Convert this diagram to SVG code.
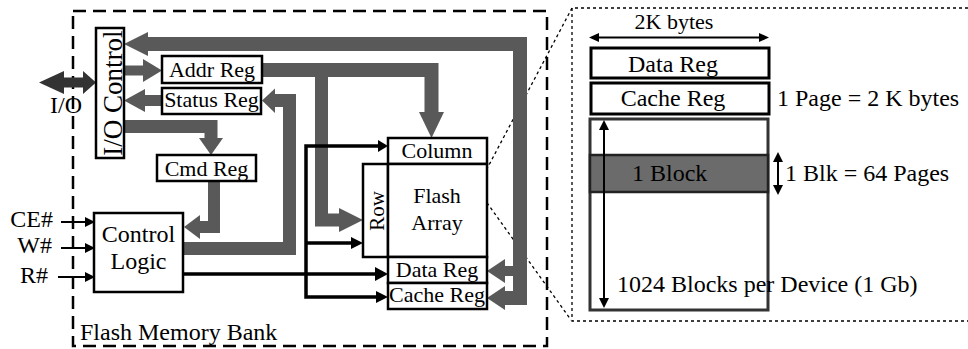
<svg xmlns="http://www.w3.org/2000/svg" width="968" height="349" viewBox="0 0 968 349">
<style>
text{font-family:"Liberation Serif","Times New Roman",serif;fill:#000}
.box{fill:#fff;stroke:#000;stroke-width:2.5}
.bus{fill:none;stroke:#595959;stroke-linejoin:miter;stroke-linecap:butt}
.head{fill:#595959;stroke:none}
.wire{fill:none;stroke:#000;stroke-width:3.5;stroke-linejoin:miter}
.thin{fill:none;stroke:#000;stroke-width:2}
.ah{fill:#000;stroke:none}
.t22{font-size:22px}
.t24{font-size:24px}
</style>
<rect x="0" y="0" width="968" height="349" fill="#fff"/>

<g id="bank-border">
<rect x="73" y="11" width="474" height="335" fill="none" stroke="#000" stroke-width="2.5" stroke-dasharray="13 7"/>
<text class="t24" x="80" y="340">Flash Memory Bank</text>
</g>

<g id="zoom-lines" fill="none" stroke="#000" stroke-width="1.3" stroke-dasharray="3 3">
<path d="M968,8 H572 V321 H968"/>
<line x1="572" y1="8" x2="480" y2="182"/>
<line x1="480" y1="193" x2="571" y2="320"/>
</g>

<g id="connectors">
<!-- big loop -->
<path class="bus" stroke-width="14" d="M148,44 H520 V298 H505"/>
<path class="bus" stroke-width="10" d="M520,271 H505"/>
<polygon class="head" points="148,32 124,44 148,56"/>
<polygon class="head" points="505,286 487,298 505,310"/>
<polygon class="head" points="505,259 487,271 505,283"/>
<!-- I/O -> Addr -->
<path class="bus" stroke-width="10" d="M124,70.5 H144"/>
<polygon class="head" points="143,59 162,70.5 143,82"/>
<!-- Status -> I/O -->
<path class="bus" stroke-width="11" d="M162,100.5 H145"/>
<polygon class="head" points="145,89 124,100.5 145,112"/>
<!-- I/O -> Cmd -->
<path class="bus" stroke-width="13" d="M124,126.5 H211 V139"/>
<polygon class="head" points="199,138 223,138 211,155"/>
<!-- Cmd -> Control -->
<path class="bus" stroke-width="12" d="M214,181 V227 H199"/>
<polygon class="head" points="200,215 184,227 200,239"/>
<!-- Control -> Status -->
<path class="bus" stroke-width="13" d="M183,248.5 H289.5 V100.5 H274"/>
<polygon class="head" points="275,88.5 262,100.5 275,113"/>
<!-- Addr -> Column / Row -->
<path class="bus" stroke-width="14" d="M262,70 H431.5 V113"/>
<polygon class="head" points="419,112 444,112 431.5,138"/>
<path class="bus" stroke-width="13" d="M321.5,70 V220 H340"/>
<polygon class="head" points="339,208 363,220 339,232"/>
<!-- I/O pins -->
<polygon fill="#333" points="39,82.5 64,71 64,77.5 83,77.5 83,71 96,82.5 83,94 83,87.5 64,87.5 64,94"/>
<!-- control wires -->
<path class="wire" d="M183,274 H376"/>
<polygon class="ah" points="375,267 388,274 375,281"/>
<path class="wire" d="M380,146 H306 V297 H377"/>
<polygon class="ah" points="378,140 388,146 378,152"/>
<polygon class="ah" points="376,291 388,297 376,303"/>
<path class="wire" d="M306,243 H353"/>
<polygon class="ah" points="351,237 363,243 351,249"/>
<!-- inputs -->
<path class="thin" d="M61,222 H87 M61,248 H87 M58,277 H87"/>
<polygon class="ah" points="85,217 95,222 85,227"/>
<polygon class="ah" points="85,243 95,248 85,253"/>
<polygon class="ah" points="85,272 95,277 85,282"/>
</g>

<g id="io-label"><text class="t24" x="66" y="113" text-anchor="middle">I/O</text></g>
<g id="pins">
<text class="t24" x="53" y="227" text-anchor="end">CE#</text>
<text class="t24" x="52" y="253" text-anchor="end">W#</text>
<text class="t24" x="48" y="283" text-anchor="end">R#</text>
</g>

<g id="io-control">
<rect class="box" x="96" y="28" width="28" height="130"/>
<text transform="translate(121.5,93) rotate(-90)" font-size="27" text-anchor="middle">I/O Control</text>
</g>
<g id="addr-reg">
<rect class="box" x="162" y="56" width="100" height="27"/>
<text class="t22" x="212" y="77" text-anchor="middle">Addr Reg</text>
</g>
<g id="status-reg">
<rect class="box" x="162" y="88" width="99" height="26"/>
<text class="t22" x="211.5" y="107" text-anchor="middle">Status Reg</text>
</g>
<g id="cmd-reg">
<rect class="box" x="157" y="155" width="99" height="26"/>
<text class="t22" x="206.5" y="176" text-anchor="middle">Cmd Reg</text>
</g>
<g id="control-logic">
<rect class="box" x="94" y="213" width="89" height="79"/>
<text class="t24" x="138.5" y="242" text-anchor="middle">Control</text>
<text class="t24" x="138.5" y="269" text-anchor="middle">Logic</text>
</g>
<g id="column">
<rect class="box" x="388" y="138" width="99" height="26"/>
<text class="t22" x="437" y="158" text-anchor="middle">Column</text>
</g>
<g id="row">
<rect class="box" x="363" y="164" width="25" height="93"/>
<text transform="translate(384,211) rotate(-90)" font-size="21" text-anchor="middle">Row</text>
</g>
<g id="flash-array">
<rect class="box" x="388" y="164" width="99" height="93"/>
<text class="t22" x="437" y="203" text-anchor="middle">Flash</text>
<text class="t22" x="437" y="230" text-anchor="middle">Array</text>
</g>
<g id="data-reg">
<rect class="box" x="388" y="257" width="99" height="26"/>
<text class="t22" x="437" y="277" text-anchor="middle">Data Reg</text>
</g>
<g id="cache-reg">
<rect class="box" x="388" y="283" width="99" height="26"/>
<text class="t22" x="437" y="302" text-anchor="middle">Cache Reg</text>
</g>

<g id="page-layout">
<line class="thin" x1="596" y1="37.5" x2="762" y2="37.5"/>
<polygon class="ah" points="599,33 589,37.5 599,42"/>
<polygon class="ah" points="759,33 769,37.5 759,42"/>
<text class="t22" x="674" y="29" text-anchor="middle">2K bytes</text>
<rect x="591" y="48" width="178" height="30" fill="#fff" stroke="#000" stroke-width="3"/>
<text class="t24" x="673" y="72" text-anchor="middle">Data Reg</text>
<rect x="591" y="83" width="178" height="31" fill="#fff" stroke="#000" stroke-width="3"/>
<text class="t24" x="673" y="106" text-anchor="middle">Cache Reg</text>
<text class="t24" x="777" y="106">1 Page = 2 K bytes</text>
<rect x="590" y="119" width="178" height="191" fill="#fff" stroke="#333" stroke-width="3"/>
<rect x="590" y="155" width="178" height="37" fill="#6b6b6b" stroke="#222" stroke-width="2.5"/>
<text class="t24" x="632" y="181">1 Block</text>
<line class="thin" x1="604" y1="128" x2="604" y2="300"/>
<polygon class="ah" points="599,130 604,120 609,130"/>
<polygon class="ah" points="599,298 604,308 609,298"/>
<line class="thin" x1="778" y1="160" x2="778" y2="187"/>
<polygon class="ah" points="773,162 778,152 783,162"/>
<polygon class="ah" points="773,185 778,195 783,185"/>
<text class="t24" x="785" y="181">1 Blk = 64 Pages</text>
<text class="t24" x="617" y="292">1024 Blocks per Device (1 Gb)</text>
</g>
</svg>
